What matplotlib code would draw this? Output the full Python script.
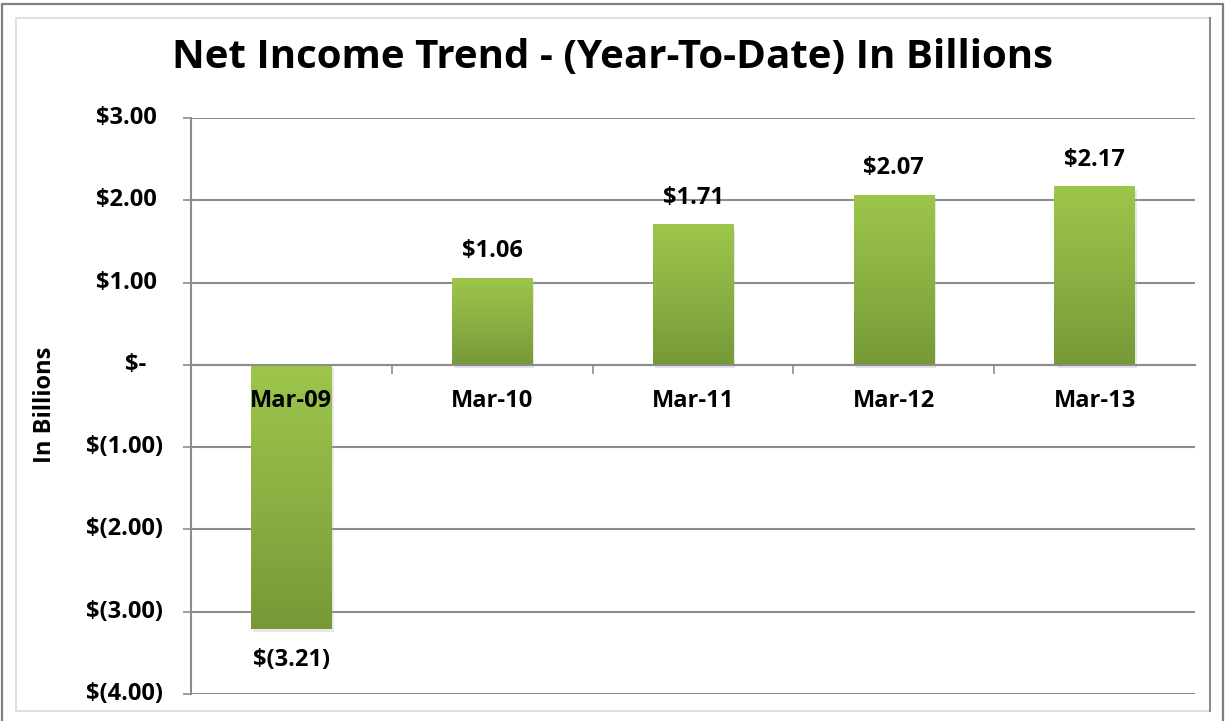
import numpy as np
import matplotlib
matplotlib.use("Agg")
import matplotlib.pyplot as plt
from matplotlib.patches import Rectangle
from matplotlib.colors import LinearSegmentedColormap
import matplotlib.patheffects as pe

# Net income, year-to-date, in billions
periods = ["Mar-09", "Mar-10", "Mar-11", "Mar-12", "Mar-13"]
net_income = [-3.21, 1.06, 1.71, 2.07, 2.17]
y_ticks = [3, 2, 1, 0, -1, -2, -3, -4]

plt.rcParams['font.family'] = ['Open Sans', 'DejaVu Sans']
plt.rcParams['font.weight'] = 'bold'

W, H = 1225, 721
fig = plt.figure(figsize=(W / 100, H / 100), dpi=100)

def px(x0, y0, x1, y1):
    # pixel box (top-left origin) -> figure fraction rect
    return [x0 / W, 1 - y1 / H, (x1 - x0) / W, (y1 - y0) / H]

# outer border and inner chart panel
fig.add_artist(Rectangle((1.5 / W, -0.05), (1223 - 1.5) / W, 1.05 - 4.5 / H,
                         transform=fig.transFigure, fill=False, ec='#7f7f7f', lw=1.6))
fig.add_artist(Rectangle((16 / W, 1 - 711 / H), (1210 - 16) / W, (711 - 18) / H,
                         transform=fig.transFigure, fill=False, ec='#d9d9d9', lw=1.2))
fig.add_artist(plt.Line2D([1210 / W, 1210 / W], [1 - 711 / H, 1 - 18 / H],
                          transform=fig.transFigure, color='#8c8c8c', lw=1.5))

ax = fig.add_axes(px(191, 118, 1195, 694))
x = np.arange(len(periods))
bar_w = 0.4

grad_cmap = LinearSegmentedColormap.from_list("grn", ["#9dc64b", "#8bb143", "#759937"])
bars = ax.bar(x, net_income, width=bar_w, color='#8bb143', zorder=2,
              path_effects=[pe.SimplePatchShadow(offset=(1.5, -2.5), shadow_rgbFace='#b0b0b0', alpha=0.3),
                            pe.Normal()])
grad = np.linspace(0, 1, 256).reshape(-1, 1)
for b in bars:
    bx0 = b.get_x()
    bx1 = bx0 + b.get_width()
    top = max(b.get_y(), b.get_y() + b.get_height())
    bot = min(b.get_y(), b.get_y() + b.get_height())
    im = ax.imshow(grad, extent=[bx0, bx1, bot, top], origin='upper', aspect='auto',
                   cmap=grad_cmap, zorder=2.1)
    im.set_clip_path(b)

ax.set_xlim(-0.5, len(periods) - 0.5)
ax.set_ylim(-4, 3)
ax.set_aspect('auto')

# gridlines
ax.set_yticks(y_ticks)
ax.yaxis.grid(True, color='#8c8c8c', lw=1.5, zorder=0)
ax.set_axisbelow(True)
ax.tick_params(axis='y', length=6, width=1.2, color='#8c8c8c', labelleft=False)

for s in ['top', 'right']:
    ax.spines[s].set_visible(False)
ax.spines['left'].set_color('#8c8c8c')
ax.spines['left'].set_linewidth(1.5)
ax.spines['bottom'].set_position(('data', 0))
ax.spines['bottom'].set_color('#8c8c8c')
ax.spines['bottom'].set_linewidth(1.5)

# x ticks between categories, labels under zero line
ax.set_xticks(np.arange(0.5, len(periods) - 0.5, 1))
ax.tick_params(axis='x', length=6.5, width=1.2, color='#8c8c8c', direction='out', labelbottom=False)

fs = 17
for xi, lab in zip(x, periods):
    ax.annotate(lab, (xi, 0), xytext=(0, -26), textcoords='offset points',
                ha='center', va='center', fontsize=fs, fontweight='bold', zorder=5)

# y tick labels in accounting style
for v in y_ticks:
    if v > 0:
        s, off = f"${v:.2f}", -24.5
    elif v < 0:
        s, off = f"$({-v:.2f})", -20.2
    else:
        s, off = "$-", -32.4
    ax.annotate(s, (-0.5, v), xytext=(off, 0), textcoords='offset points',
                ha='right', va='center', fontsize=fs, fontweight='bold', annotation_clip=False)

# data labels
for xi, v in zip(x, net_income):
    if v >= 0:
        ax.annotate(f"${v:.2f}", (xi, v), xytext=(0, 19), textcoords='offset points',
                    ha='center', va='center', fontsize=fs, fontweight='bold')
    else:
        ax.annotate(f"$({-v:.2f})", (xi, v), xytext=(0, -22), textcoords='offset points',
                    ha='center', va='center', fontsize=fs, fontweight='bold')

fig.text(45 / W, 1 - 405 / H, "In Billions", rotation=90, ha='center', va='center',
         fontsize=17, fontweight='bold')
fig.text(612 / W, 1 - 57 / H, "Net Income Trend - (Year-To-Date) In Billions",
         ha='center', va='center', fontsize=29, fontweight='bold')

fig.savefig("out.png", dpi=100)
